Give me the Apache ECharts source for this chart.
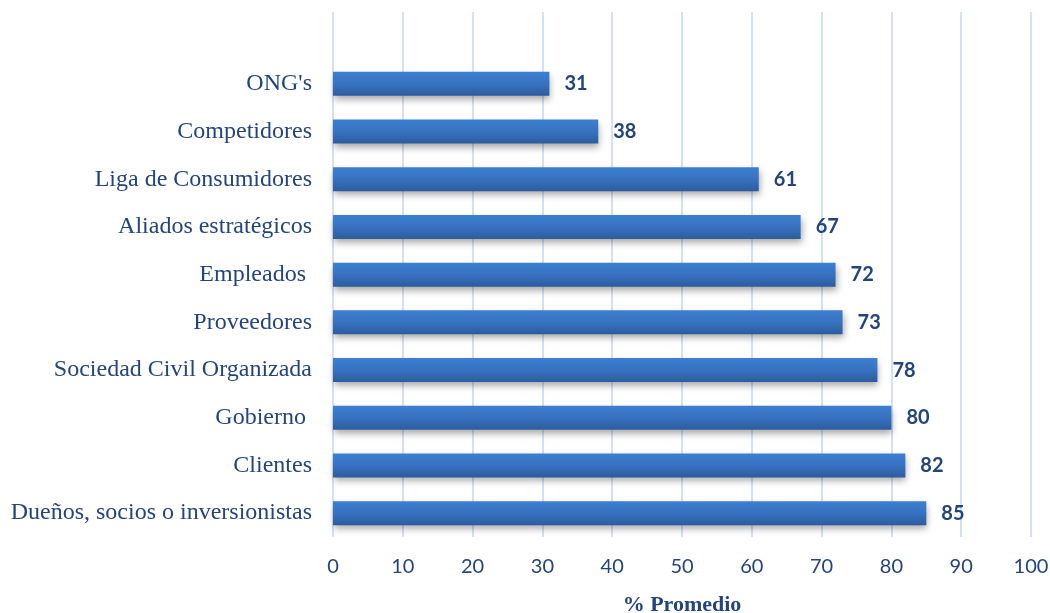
<!DOCTYPE html>
<html>
<head>
<meta charset="utf-8">
<script src="https://cdn.jsdelivr.net/npm/echarts@6/dist/echarts.min.js"></script>
<style>
  html, body { margin: 0; padding: 0; background: #fff; }
  #chart { width: 1050px; height: 613px; }
</style>
</head>
<body>
<div id="chart"></div>
<script>
// Stakeholder groups, listed bottom to top
const categories = [
  'Dueños, socios o inversionistas',
  'Clientes',
  'Gobierno ',
  'Sociedad Civil Organizada',
  'Proveedores',
  'Empleados ',
  'Aliados estratégicos',
  'Liga de Consumidores',
  'Competidores',
  "ONG's"
];
const values = [85, 82, 80, 78, 73, 72, 67, 61, 38, 31];
const xTicks = [0, 10, 20, 30, 40, 50, 60, 70, 80, 90, 100];

const navy = '#23457c';
const gridColor = '#d3e1f4';

const chart = echarts.init(document.getElementById('chart'));
chart.setOption({
  animation: false,
  grid: [
    // background grid: vertical guide lines running the full height
    { left: 333, right: 19, top: 12, bottom: 76, outerBoundsMode: 'none' },
    // bar area
    { left: 333, right: 19, top: 60, bottom: 76, outerBoundsMode: 'none' }
  ],
  xAxis: [
    {
      gridIndex: 0, type: 'value', min: xTicks[0], max: xTicks[xTicks.length - 1], interval: 10,
      axisLine: { show: false }, axisTick: { show: false }, axisLabel: { show: false },
      splitLine: { show: true, lineStyle: { color: gridColor, width: 2 } }
    },
    {
      gridIndex: 1, type: 'value', min: xTicks[0], max: xTicks[xTicks.length - 1], interval: 10,
      axisLine: { show: false }, axisTick: { show: false },
      splitLine: { show: false },
      axisLabel: {
        margin: 20, color: navy, fontFamily: 'Lato, "Open Sans", sans-serif', fontSize: 20
      },
      name: '% Promedio', nameLocation: 'middle', nameGap: 57,
      nameTextStyle: {
        color: navy, fontFamily: '"Liberation Serif", "Times New Roman", serif',
        fontSize: 22, fontWeight: 'bold'
      }
    }
  ],
  yAxis: [
    {
      gridIndex: 0, type: 'value', min: 0, max: 1,
      axisLine: { show: false }, axisTick: { show: false }, axisLabel: { show: false },
      splitLine: { show: false }
    },
    {
      gridIndex: 1, type: 'category', data: categories,
      axisLine: { show: false }, axisTick: { show: false },
      axisLabel: {
        margin: 21, color: navy,
        fontFamily: '"Liberation Serif", "Times New Roman", serif', fontSize: 24
      }
    }
  ],
  series: [{
    type: 'bar',
    xAxisIndex: 1, yAxisIndex: 1,
    data: values,
    barWidth: 24,
    itemStyle: {
      color: new echarts.graphic.LinearGradient(0, 0, 0, 1, [
        { offset: 0, color: '#3d7fd2' },
        { offset: 0.5, color: '#3772c0' },
        { offset: 1, color: '#2d5c9e' }
      ]),
      shadowColor: 'rgba(0,0,0,0.35)',
      shadowBlur: 7,
      shadowOffsetX: 1,
      shadowOffsetY: 4
    },
    label: {
      show: true, position: 'right', distance: 15,
      color: navy, fontFamily: 'Lato, "Open Sans", sans-serif',
      fontSize: 20, fontWeight: 'bold'
    }
  }]
});
</script>
</body>
</html>
